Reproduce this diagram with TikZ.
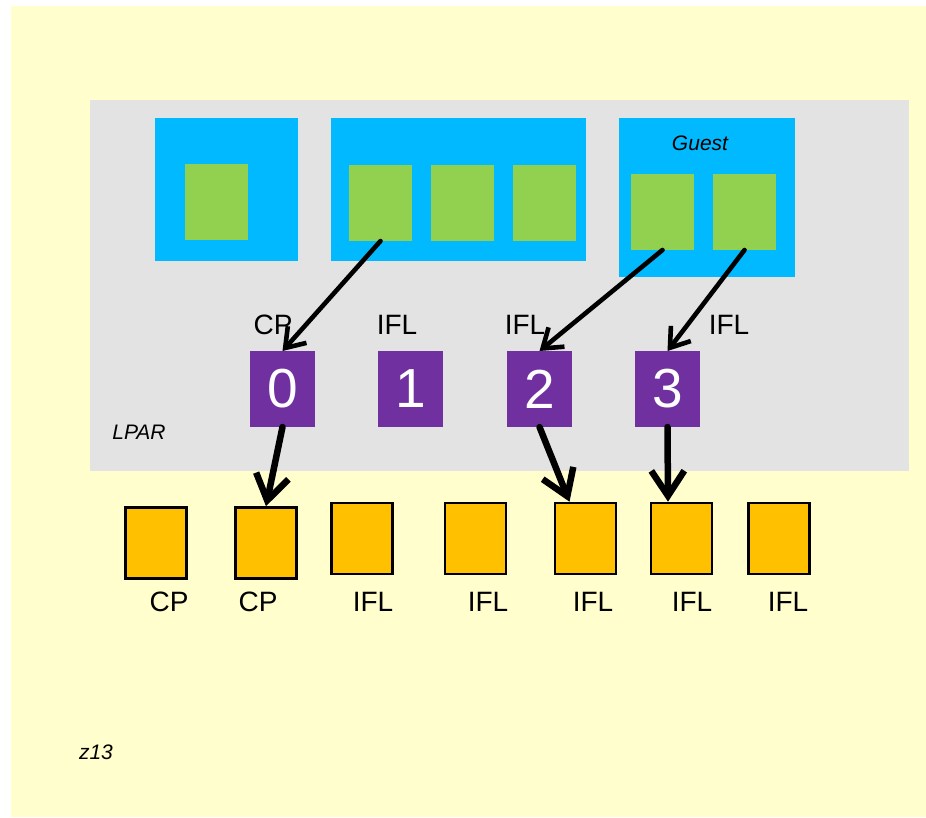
\documentclass[tikz,border=0pt]{standalone}
\usepackage{fontspec}
\setmainfont{Liberation Sans}
\usepackage{tikz}
\usetikzlibrary{arrows.meta, positioning}

\definecolor{bgyellow}{HTML}{FFFECC}
\definecolor{lpargray}{HTML}{E3E3E3}
\definecolor{guestblue}{HTML}{00B9FF}
\definecolor{vcpugreen}{HTML}{92D050}
\definecolor{lcpupurple}{HTML}{7030A0}
\definecolor{pcpuorange}{HTML}{FFC000}

\tikzset{
  guestbox/.style={fill=guestblue, inner sep=0pt, outer sep=0pt},
  vcpu/.style={fill=vcpugreen, inner sep=0pt, outer sep=0pt, minimum width=63pt, minimum height=76pt},
  lcpu/.style={fill=lcpupurple, text=white, inner sep=0pt, outer sep=0pt,
    minimum width=65pt, minimum height=76pt, font=\fontsize{55}{55}\selectfont},
  pcpu/.style={fill=pcpuorange, draw=black, line width=2.6pt, inner sep=0pt,
    outer sep=1.3pt, minimum width=61pt, minimum height=71pt},
  kind/.style={font=\fontsize{28}{28}\selectfont},
  tag/.style={font=\fontsize{21}{21}\selectfont\itshape},
  maparrow/.style={line width=4.6pt, line cap=round, -{Straight Barb[length=18pt,width=25pt]}},
  dispatch/.style={line width=6.5pt, line cap=round, -{Straight Barb[length=25pt,width=33pt]}}
}

\begin{document}
\begin{tikzpicture}[x=1pt, y=-1pt]

    %page and background
    \useasboundingbox (0,0) rectangle (926,817);
    \fill[bgyellow] (11,6) rectangle (926,817);%machine
    \fill[lpargray] (90,100) rectangle (909,471);%lpar
    \node (lpar) [tag] at (139,432) {LPAR};
    \node (machine) [tag] at (96,752) {z13};

    %guests with their virtual cpus
    \node (guest1) [guestbox, minimum width=143pt, minimum height=143pt] at (226.5,189.5) {};
    \node (v1) [vcpu] at (216.5,202) {};
    \node (guest2) [guestbox, minimum width=255pt, minimum height=143pt] at (458.5,189.5) {};
    \node (v2) [vcpu] at (380.5,203) {};
    \node (v3) [vcpu, right=19pt of v2] {};
    \node (v4) [vcpu, right=19pt of v3] {};
    \node (guest3) [guestbox, minimum width=176pt, minimum height=159pt] at (707,197.5) {};
    \node (guestname) [tag] at (700,143) {Guest};
    \node (v5) [vcpu] at (662.5,212) {};
    \node (v6) [vcpu, right=19pt of v5] {};

    %logical cpus of the lpar
    \node (l0) [lcpu] at (282.5,389) {0};
    \node (l1) [lcpu, right=63pt of l0] {1};
    \node (l2) [lcpu, right=64pt of l1] {2};
    \node (l3) [lcpu, right=63pt of l2] {3};
    \node [kind] at (273,325) {CP};%type of l0
    \node [kind] at (397,325) {IFL};%type of l1
    \node [kind] at (525,325) {IFL};%type of l2
    \node [kind] at (729,325) {IFL};%type of l3

    %physical cpus of the machine
    \node (pa) [pcpu] at (156,543) {};
    \node (pb) [pcpu] at (266,543) {};
    \node (pc) [pcpu] at (362,538.5) {};
    \node (pd) [pcpu] at (475.5,538.5) {};
    \node (pe) [pcpu] at (585.5,538.5) {};
    \node (pf) [pcpu] at (681.5,538.5) {};
    \node (pg) [pcpu] at (779,538.5) {};
    \node [kind] at (169,602) {CP};
    \node [kind] at (258,602) {CP};
    \node [kind] at (373,602) {IFL};
    \node [kind] at (488,602) {IFL};
    \node [kind] at (593,602) {IFL};
    \node [kind] at (692,602) {IFL};
    \node [kind] at (788,602) {IFL};

    %virtual to logical
    \draw[maparrow] (v2.south) -- (l0.north);
    \draw[maparrow] (v5.south) -- (l2.north);
    \draw[maparrow] (v6.south) -- (l3.north);

    %logical to physical
    \draw[dispatch] (l0.south) -- (pb.north);
    \draw[dispatch] (l2.south) -- ([xshift=-16pt]pe.north);
    \draw[dispatch] (l3.south) -- ([xshift=-13.5pt]pf.north);
  \end{tikzpicture}
\end{document}
